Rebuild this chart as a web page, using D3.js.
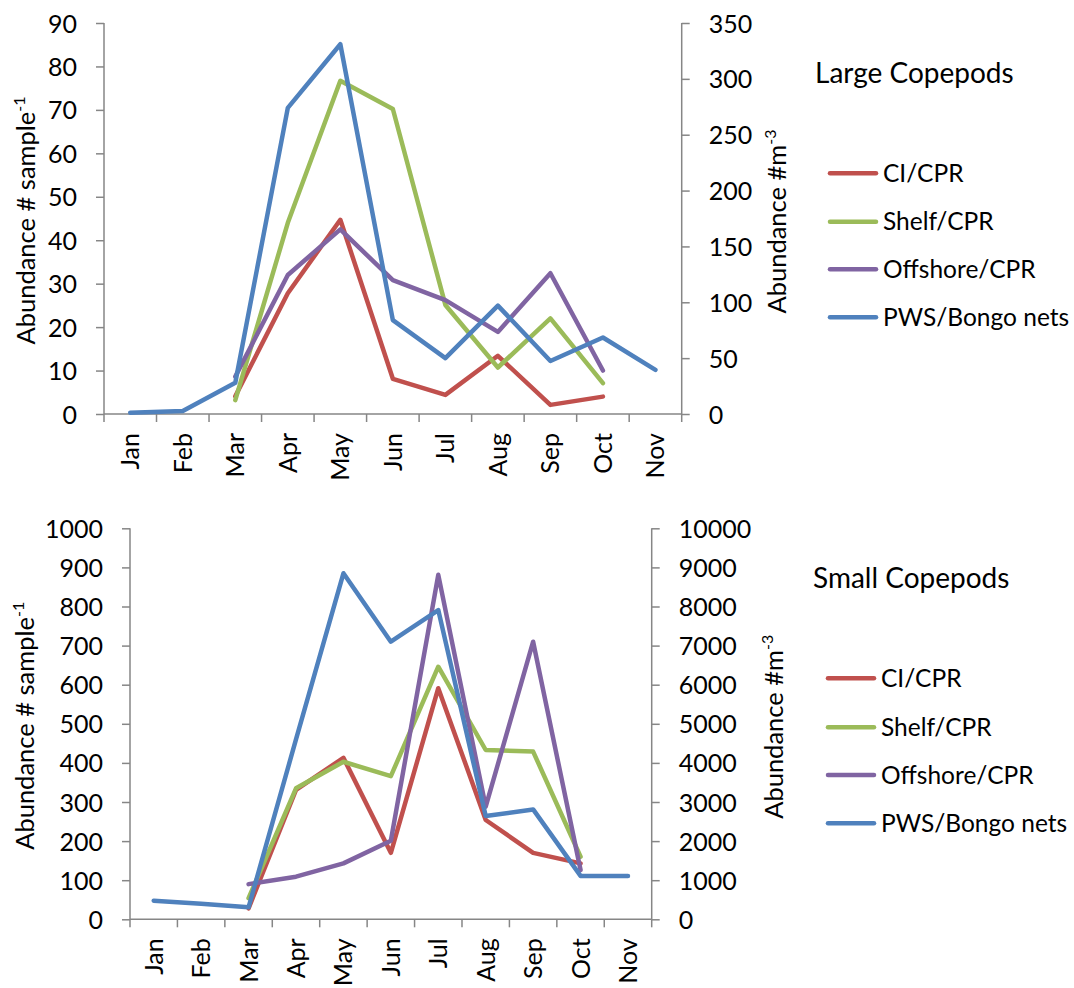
<!DOCTYPE html>
<html>
<head>
<meta charset="utf-8">
<script src="https://cdn.jsdelivr.net/npm/d3@7"></script>
<style>
  html, body { margin: 0; padding: 0; background: #ffffff; }
  svg { display: block; font-family: Lato, "Open Sans", sans-serif; }
</style>
</head>
<body>
<svg id="chart" width="1074" height="988"></svg>
<script>
// ---------- data ----------
const months = ["Jan","Feb","Mar","Apr","May","Jun","Jul","Aug","Sep","Oct","Nov"];
const seriesNames = ["CI/CPR","Shelf/CPR","Offshore/CPR","PWS/Bongo nets"];
const seriesColors = ["#C0504D","#9BBB59","#8064A2","#4F81BD"];

// Large copepods: CPR series in # sample^-1 (left axis), PWS in # m^-3 (right axis)
const largeCI       = [null,null,4.1,27.8,44.7,8.1,4.4,13.4,2.1,4.0,null];
const largeShelf    = [null,null,3.2,44.0,76.7,70.2,25.1,10.7,22.0,7.1,null];
const largeOffshore = [null,null,8.6,32.0,42.5,30.8,26.2,18.9,32.4,10.0,null];
const largePWS      = [1.2,2.7,28,274,331,84,50,97,47.5,68.5,39.5];
const largeLeftTicks  = [0,10,20,30,40,50,60,70,80,90];
const largeRightTicks = [0,50,100,150,200,250,300,350];

// Small copepods
const smallCI       = [null,null,28,331,413,170,591,254,170,143,null];
const smallShelf    = [null,null,54,335,403,366,646,433,429,160,null];
const smallOffshore = [null,null,90,109,143,201,881,288,710,126,null];
const smallPWS      = [476,400,307,4600,8850,7100,7910,2640,2810,1110,1110];
const smallLeftTicks  = [0,100,200,300,400,500,600,700,800,900,1000];
const smallRightTicks = [0,1000,2000,3000,4000,5000,6000,7000,8000,9000,10000];

// ---------- drawing ----------
const svg = d3.select("#chart");
svg.append("rect").attr("width",1074).attr("height",988).attr("fill","#fff");

const AXIS = "#868686";
const FS = 25;      // tick labels
const FSX = 25;     // month labels
const FSL = 24.5;   // legend
const FSA = 25.5;   // axis titles

function panel(opt) {
  const g = svg.append("g");
  const x = d3.scaleBand().domain(months).range([opt.x0, opt.x1]).paddingInner(0).paddingOuter(0);
  const yL = d3.scaleLinear().domain([0, opt.leftTicks[opt.leftTicks.length-1]]).range([opt.yBottom, opt.yTop]);
  const yR = d3.scaleLinear().domain([0, opt.rightTicks[opt.rightTicks.length-1]]).range([opt.yBottom, opt.yTop]);

  // left axis
  const la = g.append("g").attr("transform", `translate(${opt.x0},0)`)
    .call(d3.axisLeft(yL).tickValues(opt.leftTicks).tickSize(8).tickPadding(19).tickFormat(d3.format("d")));
  la.select(".domain").attr("stroke", AXIS).attr("stroke-width", 1.5).attr("d", `M0,${opt.yTop}V${opt.yBottom}`);
  la.selectAll(".tick line").attr("stroke", AXIS).attr("stroke-width", 1.5);
  la.selectAll(".tick text").attr("font-size", FS).attr("fill", "#000").attr("font-family", "Lato").attr("dy", "0.36em");

  // right axis
  const ra = g.append("g").attr("transform", `translate(${opt.x1},0)`)
    .call(d3.axisRight(yR).tickValues(opt.rightTicks).tickSize(8).tickPadding(19).tickFormat(d3.format("d")));
  ra.select(".domain").attr("stroke", AXIS).attr("stroke-width", 1.5).attr("d", `M0,${opt.yTop}V${opt.yBottom}`);
  ra.selectAll(".tick line").attr("stroke", AXIS).attr("stroke-width", 1.5);
  ra.selectAll(".tick text").attr("font-size", FS).attr("fill", "#000").attr("font-family", "Lato").attr("dy", "0.36em");

  // x axis line + ticks at band edges
  g.append("line").attr("x1", opt.x0).attr("x2", opt.x1).attr("y1", opt.yBottom).attr("y2", opt.yBottom)
    .attr("stroke", AXIS).attr("stroke-width", 1.5);
  const edges = months.map(m => x(m)).concat([x(months[months.length-1]) + x.bandwidth()]);
  g.selectAll(".xt").data(edges).join("line")
    .attr("x1", d => d).attr("x2", d => d).attr("y1", opt.yBottom).attr("y2", opt.yBottom + 8)
    .attr("stroke", AXIS).attr("stroke-width", 1.5);
  g.selectAll(".xl").data(months).join("text")
    .attr("transform", d => `translate(${x(d) + x.bandwidth()/2 + 9},${opt.yBottom + 19}) rotate(-90)`)
    .attr("text-anchor", "end").attr("font-size", FSX).attr("fill", "#000")
    .text(d => d);

  // lines
  const cx = d => x(d) + x.bandwidth()/2;
  const data = [opt.ci, opt.shelf, opt.off, opt.pws];
  data.forEach((vals, i) => {
    const yS = i === 3 ? yR : yL;
    const line = d3.line().defined(d => d.v != null).x(d => cx(d.m)).y(d => yS(d.v));
    g.append("path").datum(months.map((m, k) => ({m, v: vals[k]})))
      .attr("d", line).attr("fill", "none").attr("stroke", seriesColors[i])
      .attr("stroke-width", 4.5).attr("stroke-linejoin", "round").attr("stroke-linecap", "round");
  });

  // axis titles
  const lt = g.append("text").attr("transform", `translate(${opt.leftLabelX},${(opt.yTop+opt.yBottom)/2 + 2}) rotate(-90)`)
    .attr("text-anchor", "middle").attr("font-size", FSA).attr("fill", "#000");
  lt.append("tspan").text("Abundance # sample");
  lt.append("tspan").attr("dy", -10).attr("font-size", 16).text("-1");

  const rt = g.append("text").attr("transform", `translate(${opt.rightLabelX},${(opt.yTop+opt.yBottom)/2 + 3}) rotate(-90)`)
    .attr("text-anchor", "middle").attr("font-size", FSA).attr("fill", "#000");
  rt.append("tspan").text("Abundance #m");
  rt.append("tspan").attr("dy", -10).attr("font-size", 16).text("-3");

  // title
  g.append("text").attr("x", opt.titleX).attr("y", opt.titleY).attr("font-size", 28).attr("fill", "#000").text(opt.title);

  // legend
  seriesNames.forEach((n, i) => {
    const ly = opt.legendY[i];
    g.append("line").attr("x1", opt.legendX).attr("x2", opt.legendX + 46).attr("y1", ly).attr("y2", ly)
      .attr("stroke", seriesColors[i]).attr("stroke-width", 4.5).attr("stroke-linecap", "round");
    g.append("text").attr("x", opt.legendX + 53).attr("y", ly + 8.6).attr("font-size", FSL).attr("fill", "#000").text(n);
  });
}

panel({
  x0: 104, x1: 681.7, yTop: 23, yBottom: 414,
  leftTicks: largeLeftTicks, rightTicks: largeRightTicks,
  ci: largeCI, shelf: largeShelf, off: largeOffshore, pws: largePWS,
  leftLabelX: 35, rightLabelX: 786,
  title: "Large Copepods", titleX: 815, titleY: 82.7,
  legendX: 830, legendY: [173.3, 221.7, 269.3, 317.3]
});

panel({
  x0: 130, x1: 651.7, yTop: 528.3, yBottom: 919.3,
  leftTicks: smallLeftTicks, rightTicks: smallRightTicks,
  ci: smallCI, shelf: smallShelf, off: smallOffshore, pws: smallPWS,
  leftLabelX: 33.5, rightLabelX: 783.3,
  title: "Small Copepods", titleX: 813, titleY: 588.3,
  legendX: 828, legendY: [678.3, 727.3, 775, 823.3]
});
</script>
</body>
</html>
